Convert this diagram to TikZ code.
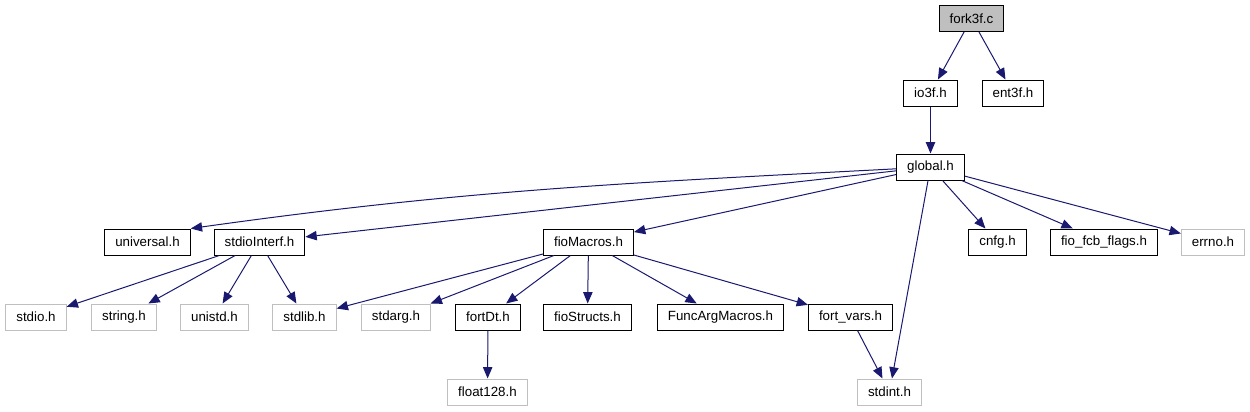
\documentclass[tikz,border=0pt]{standalone}
\usepackage{fontspec}
\setmainfont{Liberation Sans}
\usetikzlibrary{arrows.meta}
\definecolor{edgeblue}{RGB}{25,25,112}
\definecolor{grey75}{RGB}{191,191,191}

\begin{document}
\begin{tikzpicture}[x=0.75pt, y=0.75pt, font=\fontsize{10}{12}\selectfont, >={Triangle[length=8.5pt, width=7pt]},
    hfile/.style={draw=black, line width=0.75pt, rectangle, minimum height=19.5pt, inner xsep=7.9pt, inner ysep=0pt},
    rootfile/.style={hfile, fill=grey75},
    sysfile/.style={hfile, draw=grey75},
    dep/.style={->, draw=edgeblue, line width=0.75pt}]
        \useasboundingbox (0,0) rectangle (1250,-411);

        \node [rootfile] (fork3f) at (971.5,-18.5) {fork3f.c};
        \node [hfile] (io3f) at (930.5,-93) {io3f.h};
        \node [hfile] (ent3f) at (1013,-93) {ent3f.h};
        \node [hfile] (global) at (930.5,-167) {global.h};

        \node [hfile] (universal) at (147.5,-242) {universal.h};
        \node [hfile] (stdioInterf) at (259.5,-242) {stdioInterf.h};
        \node [hfile] (fioMacros) at (588.5,-242) {fioMacros.h};
        \node [hfile] (cnfg) at (997.5,-242) {cnfg.h};
        \node [hfile] (fcbflags) at (1104,-242) {fio\_fcb\_flags.h};
        \node [sysfile] (errno) at (1213,-242) {errno.h};

        \node [sysfile] (stdio) at (36,-317) {stdio.h};
        \node [sysfile] (string) at (124,-317) {string.h};
        \node [sysfile] (unistd) at (214.5,-317) {unistd.h};
        \node [sysfile] (stdlib) at (304.5,-317) {stdlib.h};
        \node [sysfile] (stdarg) at (396,-317) {stdarg.h};
        \node [hfile] (fortDt) at (488,-317) {fortDt.h};
        \node [hfile] (fioStructs) at (587.5,-317) {fioStructs.h};
        \node [hfile] (funcArgMacros) at (720.5,-317) {FuncArgMacros.h};
        \node [hfile] (fortVars) at (850.5,-317) {fort\_vars.h};

        \node [sysfile] (float128) at (487.5,-392) {float128.h};
        \node [sysfile] (stdint) at (889.5,-392) {stdint.h};

        \draw [dep] (fork3f) -- (io3f);
        \draw [dep] (fork3f) -- (ent3f);
        \draw [dep] (io3f) -- (global);

        % global.h includes
        \draw [dep] (global.183) to[out=183, in=8] (universal.north east);
        \draw [dep] (global) -- (stdioInterf);
        \draw [dep] (global) -- (fioMacros);
        \draw [dep] (global) -- (stdint);
        \draw [dep] (global) -- (cnfg);
        \draw [dep] (global) -- (fcbflags);
        \draw [dep] (global) -- (errno);

        \draw [dep] (stdioInterf) -- (stdio);
        \draw [dep] (stdioInterf) -- (string);
        \draw [dep] (stdioInterf) -- (unistd);
        \draw [dep] (stdioInterf) -- (stdlib);

        \draw [dep] (fioMacros) -- (stdlib);
        \draw [dep] (fioMacros) -- (stdarg);
        \draw [dep] (fioMacros) -- (fortDt);
        \draw [dep] (fioMacros) -- (fioStructs);
        \draw [dep] (fioMacros) -- (funcArgMacros);
        \draw [dep] (fioMacros) -- (fortVars);

        \draw [dep] (fortDt) -- (float128);
        \draw [dep] (fortVars) -- (stdint);
    \end{tikzpicture}
\end{document}
